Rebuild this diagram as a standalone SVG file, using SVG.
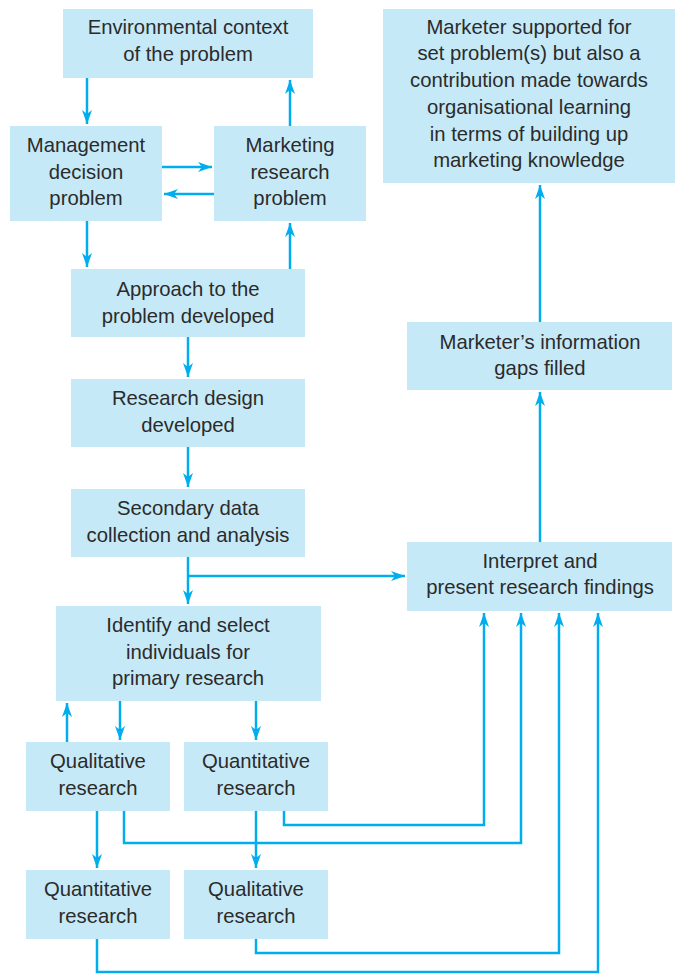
<svg xmlns="http://www.w3.org/2000/svg" width="684" height="975" viewBox="0 0 684 975">
<defs>
<marker id="ah" markerUnits="userSpaceOnUse" markerWidth="15" markerHeight="10" refX="14" refY="5" orient="auto">
<path d="M0,0 L14,5 L0,10 L4,5 z" fill="#00aeef"/>
</marker>
<style>
.b{fill:#c6e9f8}
.t{font-family:"Liberation Sans",Arial,sans-serif;font-size:20.3px;fill:#2b2b2b;text-anchor:middle}
.c{fill:none;stroke:#00aeef;stroke-width:2.5}
.a{marker-end:url(#ah)}
</style>
</defs>
<rect width="684" height="975" fill="#ffffff"/>
<g id="env"><rect class="b" x="63" y="9" width="250" height="69"/><text class="t" x="188" y="34">Environmental context</text><text class="t" x="188" y="61">of the problem</text></g>
<g id="mdp"><rect class="b" x="10" y="126" width="152" height="95"/><text class="t" x="86" y="152">Management</text><text class="t" x="86" y="178.5">decision</text><text class="t" x="86" y="205">problem</text></g>
<g id="mrp"><rect class="b" x="214" y="126" width="152" height="95"/><text class="t" x="290" y="152">Marketing</text><text class="t" x="290" y="178.5">research</text><text class="t" x="290" y="205">problem</text></g>
<g id="approach"><rect class="b" x="71" y="269" width="234" height="68"/><text class="t" x="188" y="296">Approach to the</text><text class="t" x="188" y="323">problem developed</text></g>
<g id="design"><rect class="b" x="71" y="379" width="234" height="68"/><text class="t" x="188" y="405">Research design</text><text class="t" x="188" y="432">developed</text></g>
<g id="secondary"><rect class="b" x="71" y="489" width="234" height="68"/><text class="t" x="188" y="515">Secondary data</text><text class="t" x="188" y="542">collection and analysis</text></g>
<g id="identify"><rect class="b" x="56" y="606" width="265" height="95"/><text class="t" x="188" y="632">Identify and select</text><text class="t" x="188" y="659">individuals for</text><text class="t" x="188" y="685">primary research</text></g>
<g id="qual1"><rect class="b" x="26" y="742" width="144" height="69"/><text class="t" x="98" y="768">Qualitative</text><text class="t" x="98" y="795">research</text></g>
<g id="quant1"><rect class="b" x="184" y="742" width="144" height="69"/><text class="t" x="256" y="768">Quantitative</text><text class="t" x="256" y="795">research</text></g>
<g id="quant2"><rect class="b" x="26" y="870" width="144" height="69"/><text class="t" x="98" y="896">Quantitative</text><text class="t" x="98" y="923">research</text></g>
<g id="qual2"><rect class="b" x="184" y="870" width="144" height="69"/><text class="t" x="256" y="896">Qualitative</text><text class="t" x="256" y="923">research</text></g>
<g id="supported"><rect class="b" x="383" y="9" width="292" height="174"/><text class="t" x="529" y="34">Marketer supported for</text><text class="t" x="529" y="60">set problem(s) but also a</text><text class="t" x="529" y="87">contribution made towards</text><text class="t" x="529" y="114">organisational learning</text><text class="t" x="529" y="141">in terms of building up</text><text class="t" x="529" y="167">marketing knowledge</text></g>
<g id="gaps"><rect class="b" x="407" y="322" width="265" height="68"/><text class="t" x="540" y="349">Marketer’s information</text><text class="t" x="540" y="375">gaps filled</text></g>
<g id="interpret"><rect class="b" x="407" y="542" width="265" height="69"/><text class="t" x="540" y="568">Interpret and</text><text class="t" x="540" y="594">present research findings</text></g>
<g id="connectors">
<path class="c a" d="M87,78 V124"/>
<path class="c a" d="M290,126 V80"/>
<path class="c a" d="M162,167 H212"/>
<path class="c a" d="M214,194 H164"/>
<path class="c a" d="M87,221 V267"/>
<path class="c a" d="M290,269 V223"/>
<path class="c a" d="M188,337 V377"/>
<path class="c a" d="M188,447 V487"/>
<path class="c a" d="M188,557 V604"/>
<path class="c a" d="M188,576 H405"/>
<path class="c a" d="M67,742 V703"/>
<path class="c a" d="M120,701 V740"/>
<path class="c a" d="M256,701 V740"/>
<path class="c a" d="M97,811 V868"/>
<path class="c a" d="M256,811 V868"/>
<path class="c a" d="M284,811 V825 H484 V613"/>
<path class="c a" d="M124,811 V843 H521 V613"/>
<path class="c a" d="M256,939 V953 H559 V613"/>
<path class="c a" d="M97,939 V972 H598 V613"/>
<path class="c a" d="M540,542 V392"/>
<path class="c a" d="M540,322 V185"/>
</g>
</svg>
